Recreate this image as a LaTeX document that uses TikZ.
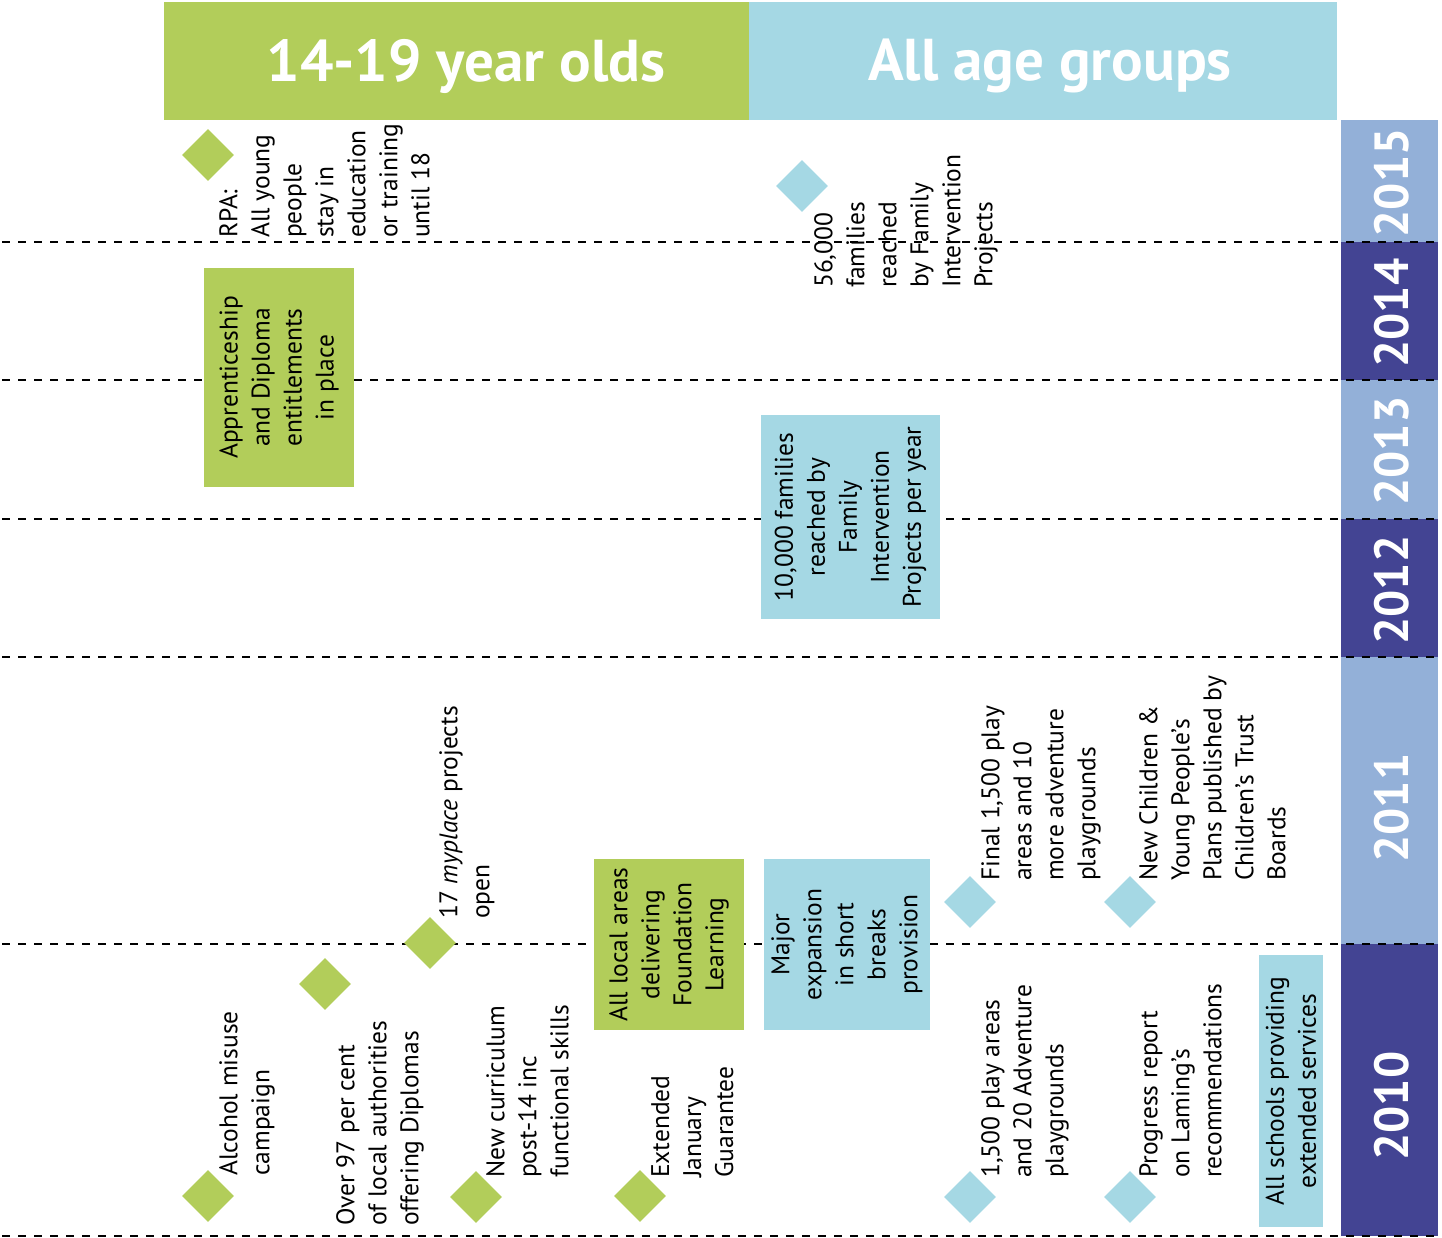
\documentclass[tikz,border=0pt]{standalone}
\usepackage{fontspec}
\setmainfont{PT Sans}
\usetikzlibrary{shapes.geometric}
\definecolor{lgreen}{HTML}{B2CD5A}
\definecolor{lblue}{HTML}{A5D8E4}
\definecolor{yrlight}{HTML}{93B0D8}
\definecolor{yrdark}{HTML}{434493}
\tikzset{
  hdr/.style={font=\fontsize{59}{62}\selectfont\bfseries, text=white, inner sep=0},
  yr/.style={rotate=90, font=\fontsize{48}{50}\selectfont\bfseries, text=white, inner sep=0},
  sep/.style={line width=2.9pt, dash pattern=on 8pt off 8pt, black},
  lbl/.style={rotate=90, anchor=north west, align=left, inner sep=0,
    font=\fontsize{25.5}{32}\selectfont},
  boxlbl/.style={rotate=90, align=center, inner sep=0,
    font=\fontsize{25.5}{32}\selectfont},
  gdia/.style={shape=diamond, aspect=1, fill=lgreen, minimum size=52pt, inner sep=0},
  bdia/.style={shape=diamond, aspect=1, fill=lblue, minimum size=52pt, inner sep=0},
}
\begin{document}
\begin{tikzpicture}[x=1pt, y=-1pt]
\useasboundingbox (0,0) rectangle (1442,1238);
% headers
\fill[lgreen] (164,2) rectangle (749,120);
\fill[lblue] (749,2) rectangle (1337,120);
\node[hdr] (h1) at (466,66) {14-19 year olds};
\node[hdr] (h2) at (1050,66) {All age groups};
% year bands
\fill[yrlight] (1341,120) rectangle (1438,242);
\fill[yrdark] (1341,242) rectangle (1438,380);
\fill[yrlight] (1341,380) rectangle (1438,519);
\fill[yrdark] (1341,519) rectangle (1438,657);
\fill[yrlight] (1341,657) rectangle (1438,944);
\fill[yrdark] (1341,944) rectangle (1438,1236);
\node[yr] (y15) at (1392,183) {2015};
\node[yr] (y14) at (1392,313) {2014};
\node[yr] (y13) at (1392,451) {2013};
\node[yr] (y12) at (1392,590) {2012};
\node[yr] (y11) at (1392,808) {2011};
\node[yr] (y10) at (1392,1106) {2010};
% separators
\coordinate (s1a) at (2,242); \coordinate (s1b) at (1438,242);
\coordinate (s2a) at (2,380); \coordinate (s2b) at (1438,380);
\coordinate (s3a) at (2,519); \coordinate (s3b) at (1438,519);
\coordinate (s4a) at (2,657); \coordinate (s4b) at (1438,657);
\coordinate (s5a) at (2,944); \coordinate (s5b) at (1438,944);
\coordinate (s6a) at (2,1236); \coordinate (s6b) at (1438,1236);
\draw[sep] (s1a) -- (s1b);
\draw[sep] (s2a) -- (s2b);
\draw[sep] (s3a) -- (s3b);
\draw[sep] (s4a) -- (s4b);
\draw[sep] (s5a) -- (s5b);
\draw[sep] (s6a) -- (s6b);
% boxes
\node[boxlbl, fill=lgreen, minimum width=219pt, minimum height=150pt] (appr) at (279,377.5)
  {Apprenticeship\\and Diploma\\entitlements\\in place};
\node[boxlbl, fill=lblue, minimum width=204pt, minimum height=179pt] (fam10) at (850.5,517)
  {10,000 families\\reached by\\Family\\Intervention\\Projects per year};
\node[boxlbl, fill=lgreen, minimum width=171pt, minimum height=150pt] (found) at (669,944.5)
  {All local areas\\delivering\\Foundation\\Learning};
\node[boxlbl, fill=lblue, minimum width=171pt, minimum height=166pt] (major) at (847,944.5)
  {Major\\expansion\\in short\\breaks\\provision};
\node[boxlbl, fill=lblue, minimum width=272pt, minimum height=64pt] (schools) at (1291,1091)
  {All schools providing\\extended services};
% diamonds
\node[gdia] (d1) at (208,155) {};
\node[bdia] (d2) at (802,186) {};
\node[gdia] (d3) at (430,943) {};
\node[gdia] (d4) at (208,1196) {};
\node[gdia] (d5) at (325,984) {};
\node[gdia] (d6) at (476,1197) {};
\node[gdia] (d7) at (640,1196) {};
\node[bdia] (d8) at (970,902) {};
\node[bdia] (d9) at (1130,902) {};
\node[bdia] (d10) at (970,1197) {};
\node[bdia] (d11) at (1130,1197) {};
% labels
\node[lbl] (t1) at (219,238) {RPA:\\All young\\people\\stay in\\education\\or training\\until 18};
\node[lbl] (t2) at (814,288) {56,000\\families\\reached\\by Family\\Intervention\\Projects};
\node[lbl] (t3) at (439,919) {17 \textit{myplace} projects\\open};
\node[lbl] (t4) at (219,1176) {Alcohol misuse\\campaign};
\node[lbl] (t5) at (336,1226) {Over 97 per cent\\of local authorities\\offering Diplomas};
\node[lbl] (t6) at (486,1178) {New curriculum\\post-14 inc\\functional skills};
\node[lbl] (t7) at (651,1178) {Extended\\January\\Guarantee};
\node[lbl] (t8) at (981,881) {Final 1,500 play\\areas and 10\\more adventure\\playgrounds};
\node[lbl] (t9) at (1139,881) {New Children \&\\Young People’s\\Plans published by\\Children’s Trust\\Boards};
\node[lbl] (t10) at (981,1178) {1,500 play areas\\and 20 Adventure\\playgrounds};
\node[lbl] (t11) at (1139,1178) {Progress report\\on Laming’s\\recommendations};
\end{tikzpicture}
\end{document}
